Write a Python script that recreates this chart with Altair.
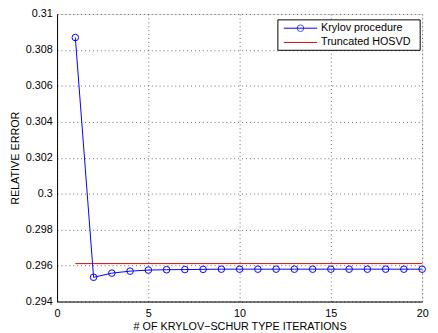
import altair as alt
import pandas as pd

iterations = list(range(1, 21))
krylov_err = [0.30869, 0.29535, 0.29558, 0.29569, 0.29575, 0.29577, 0.29578, 0.29579,
              0.29580, 0.29580, 0.29580, 0.29580, 0.29580, 0.29580, 0.29580, 0.29580,
              0.29580, 0.29580, 0.29580, 0.29580]
hosvd_err = 0.29611
hosvd_x = [1, 20]

df = pd.DataFrame({"x": iterations, "y": krylov_err})
df_h = pd.DataFrame({"x": hosvd_x, "y": [hosvd_err, hosvd_err]})

FONT = "Liberation Sans"
W, H = 372, 293

xs = alt.Scale(domain=[0, 20], nice=False)
ys = alt.Scale(domain=[0.294, 0.31], nice=False)

xax = alt.Axis(values=[0, 5, 10, 15, 20], title="# OF KRYLOV\u2212SCHUR TYPE ITERATIONS",
               grid=True, gridDash=[1, 3], gridColor="#444", gridOpacity=0.8,
               domainColor="black", tickColor="black", tickSize=0, labelPadding=6,
               labelFont=FONT, labelFontSize=11, labelColor="black", labelOverlap=False,
               titleFont=FONT, titleFontSize=11, titleFontWeight="normal", titleColor="black",
               titlePadding=3, labelFlush=False)
yax = alt.Axis(values=[0.294, 0.296, 0.298, 0.3, 0.302, 0.304, 0.306, 0.308, 0.31],
               format="~g", title="RELATIVE ERROR",
               grid=True, gridDash=[1, 3], gridColor="#444", gridOpacity=0.8,
               domainColor="black", tickColor="black", tickSize=0, labelPadding=5,
               labelFont=FONT, labelFontSize=11, labelColor="black", labelOverlap=False,
               labelFlush=False,
               titleFont=FONT, titleFontSize=11, titleFontWeight="normal", titleColor="black",
               titlePadding=5)

hline = alt.Chart(df_h).mark_line(color="#e00000", strokeWidth=1).encode(
    x=alt.X("x:Q", scale=xs, axis=xax), y=alt.Y("y:Q", scale=ys, axis=yax))
line = alt.Chart(df).mark_line(color="#0000ff", strokeWidth=1).encode(
    x=alt.X("x:Q", scale=xs, axis=xax), y=alt.Y("y:Q", scale=ys, axis=yax))
pts = alt.Chart(df).mark_point(color="#0000ff", size=45, filled=False, strokeWidth=1, opacity=1).encode(
    x=alt.X("x:Q", scale=xs, axis=xax), y=alt.Y("y:Q", scale=ys, axis=yax))

# manual legend
box = alt.Chart(pd.DataFrame({"a": [0]})).mark_rect(fill="white", stroke="black", strokeWidth=1).encode(
    x=alt.value(225), x2=alt.value(370), y=alt.value(6), y2=alt.value(37))
l1 = alt.Chart(pd.DataFrame({"a": [0]})).mark_rule(color="#0000ff", strokeWidth=1).encode(
    x=alt.value(231), x2=alt.value(265), y=alt.value(14.5))
c1 = alt.Chart(pd.DataFrame({"a": [0]})).mark_point(color="#0000ff", size=45, filled=False, strokeWidth=1).encode(
    x=alt.value(248), y=alt.value(14.5))
l2 = alt.Chart(pd.DataFrame({"a": [0]})).mark_rule(color="#e00000", strokeWidth=1).encode(
    x=alt.value(231), x2=alt.value(265), y=alt.value(29))
t1 = alt.Chart(pd.DataFrame({"t": ["Krylov procedure"]})).mark_text(
    align="left", baseline="middle", font=FONT, fontSize=11, color="black").encode(
    x=alt.value(269), y=alt.value(14.5), text="t:N")
t2 = alt.Chart(pd.DataFrame({"t": ["Truncated HOSVD"]})).mark_text(
    align="left", baseline="middle", font=FONT, fontSize=11, color="black").encode(
    x=alt.value(269), y=alt.value(29), text="t:N")

chart = alt.layer(hline, line, pts, box, l1, c1, l2, t1, t2).properties(
    width=W, height=H,
    autosize=alt.AutoSizeParams(type="none"),
    padding={"left": 50, "top": 3, "right": 8, "bottom": 30},
).configure_view(stroke="black", strokeWidth=1).configure(background="white")

chart.save("out.html", embed_options={"renderer": "svg", "actions": False})
